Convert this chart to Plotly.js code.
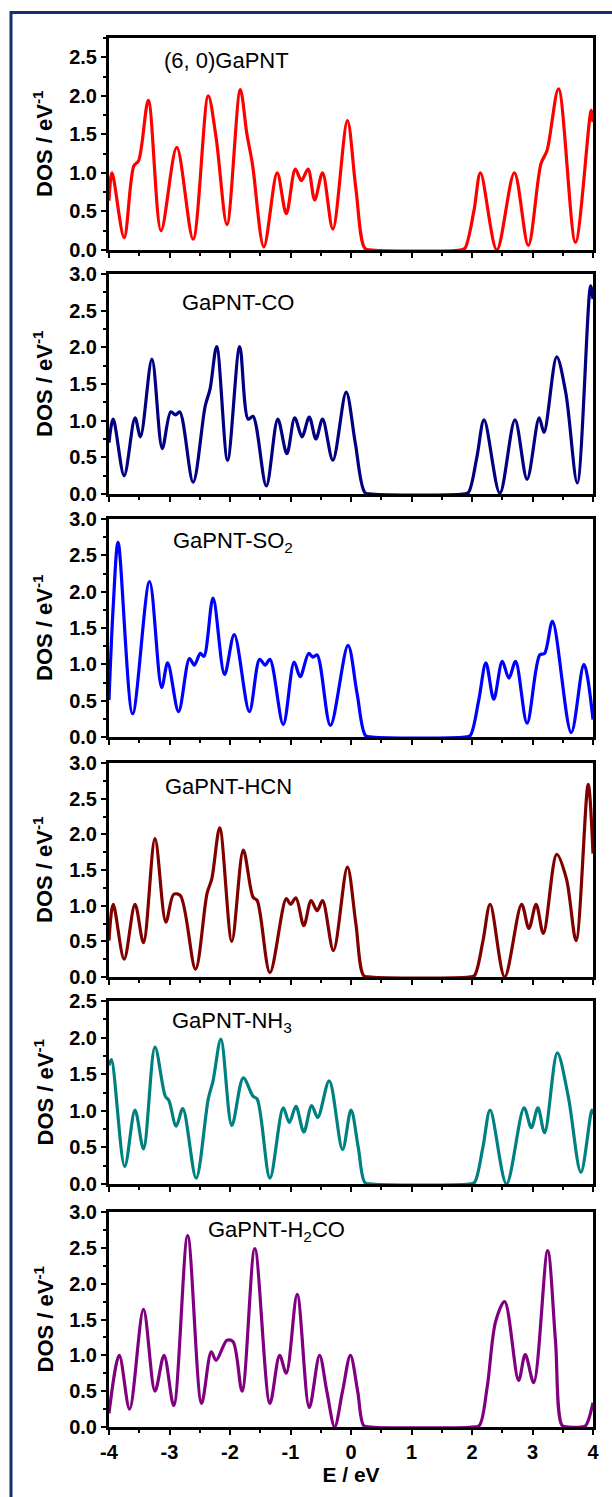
<!DOCTYPE html>
<html>
<head>
<meta charset="utf-8">
<script src="https://cdn.plot.ly/plotly-3.0.1.min.js"></script>
<style>html,body{margin:0;padding:0;background:#fff;}#chart{width:612px;height:1497px;}</style>
</head>
<body>
<div id="chart"></div>
<script>
// ---- data ----
const panelNames = ["(6, 0)GaPNT", "GaPNT-CO", "GaPNT-SO<sub>2</sub>", "GaPNT-HCN", "GaPNT-NH<sub>3</sub>", "GaPNT-H<sub>2</sub>CO"];
const panelColors = ["#ff0000", "#000080", "#0000ff", "#800000", "#008080", "#800080"];
const yMax = [2.75, 3.0, 3.0, 3.0, 2.5, 3.0];
const xTickVals = [-4, -3, -2, -1, 0, 1, 2, 3, 4];

const E_pnt = [-4.0, -3.95, -3.75, -3.59, -3.51, -3.35, -3.14, -2.88, -2.61, -2.36, -2.23, -2.05, -1.83, -1.72, -1.63, -1.44, -1.22, -1.07, -0.92, -0.82, -0.71, -0.60, -0.47, -0.30, -0.06, 0.08, 0.23, 0.35, 1.80, 1.88, 2.03, 2.14, 2.41, 2.70, 2.93, 3.14, 3.24, 3.43, 3.71, 3.97, 4.0];
const D_pnt = [0.64, 1.0, 0.16, 1.09, 1.16, 1.94, 0.25, 1.33, 0.14, 2.0, 1.46, 0.33, 2.08, 1.5, 1.12, 0.04, 1.0, 0.47, 1.05, 0.9, 1.05, 0.65, 1.0, 0.27, 1.68, 0.8, 0.02, 0, 0, 0.02, 0.5, 1.0, 0.0, 1.0, 0.06, 1.12, 1.29, 2.09, 0.1, 1.81, 1.66];

const E_co = [-4.0, -3.93, -3.75, -3.57, -3.48, -3.29, -3.12, -2.98, -2.90, -2.83, -2.61, -2.41, -2.33, -2.22, -2.04, -1.84, -1.70, -1.62, -1.40, -1.21, -1.06, -0.93, -0.81, -0.69, -0.58, -0.47, -0.30, -0.08, 0.07, 0.23, 0.35, 1.85, 1.94, 2.08, 2.20, 2.46, 2.71, 2.91, 3.11, 3.19, 3.40, 3.55, 3.74, 3.96, 4.0];
const D_co = [0.70, 1.02, 0.25, 1.04, 0.78, 1.84, 0.62, 1.12, 1.08, 1.12, 0.16, 1.2, 1.43, 2.01, 0.46, 2.01, 1.02, 1.06, 0.11, 1.02, 0.55, 1.04, 0.78, 1.05, 0.75, 1.02, 0.46, 1.39, 0.7, 0.02, 0, 0, 0.02, 0.5, 1.01, 0.01, 1.01, 0.2, 1.04, 0.84, 1.87, 1.38, 0.15, 2.84, 2.66];

const E_so2 = [-4.0, -3.93, -3.85, -3.61, -3.33, -3.13, -3.03, -2.85, -2.67, -2.59, -2.49, -2.43, -2.28, -2.09, -1.93, -1.68, -1.51, -1.42, -1.34, -1.12, -0.94, -0.84, -0.70, -0.63, -0.56, -0.34, -0.05, 0.10, 0.24, 0.35, 1.88, 1.97, 2.11, 2.23, 2.36, 2.50, 2.61, 2.72, 2.91, 3.12, 3.20, 3.33, 3.64, 3.85, 4.0];
const D_so2 = [0.51, 1.8, 2.68, 0.32, 2.14, 0.68, 1.02, 0.35, 1.08, 0.99, 1.15, 1.11, 1.91, 0.86, 1.41, 0.35, 1.07, 0.99, 1.07, 0.17, 1.03, 0.83, 1.15, 1.10, 1.13, 0.16, 1.26, 0.6, 0.02, 0, 0, 0.02, 0.5, 1.02, 0.52, 1.04, 0.81, 1.04, 0.19, 1.13, 1.15, 1.59, 0.06, 1.0, 0.24];

const E_hcn = [-4.0, -3.93, -3.75, -3.57, -3.43, -3.24, -3.06, -2.93, -2.82, -2.57, -2.38, -2.30, -2.17, -1.97, -1.78, -1.62, -1.55, -1.34, -1.07, -1.0, -0.91, -0.78, -0.66, -0.56, -0.47, -0.29, -0.06, 0.08, 0.21, 0.33, 1.95, 2.04, 2.18, 2.30, 2.54, 2.82, 2.94, 3.06, 3.18, 3.40, 3.56, 3.72, 3.92, 4.0];
const D_hcn = [0.51, 1.02, 0.25, 1.02, 0.48, 1.94, 0.77, 1.16, 1.14, 0.11, 1.17, 1.38, 2.09, 0.50, 1.78, 1.12, 1.07, 0.06, 1.1, 1.02, 1.11, 0.72, 1.07, 0.93, 1.07, 0.37, 1.54, 0.75, 0.02, 0, 0, 0.02, 0.5, 1.02, 0.0, 1.02, 0.68, 1.02, 0.61, 1.72, 1.38, 0.51, 2.70, 1.73];

const E_nh3 = [-4.0, -3.96, -3.74, -3.57, -3.43, -3.24, -3.07, -3.01, -2.89, -2.78, -2.56, -2.36, -2.28, -2.15, -1.97, -1.78, -1.62, -1.55, -1.34, -1.12, -1.02, -0.91, -0.78, -0.65, -0.55, -0.36, -0.14, 0.0, 0.12, 0.23, 0.35, 1.95, 2.04, 2.18, 2.30, 2.57, 2.86, 2.98, 3.09, 3.20, 3.41, 3.59, 3.80, 3.98, 4.0];
const D_nh3 = [1.62, 1.70, 0.24, 1.01, 0.48, 1.87, 1.2, 1.14, 0.79, 1.03, 0.08, 1.16, 1.41, 1.98, 0.8, 1.45, 1.2, 1.16, 0.08, 1.04, 0.84, 1.06, 0.71, 1.07, 0.91, 1.41, 0.47, 1.01, 0.5, 0.02, 0, 0, 0.02, 0.5, 1.01, 0.0, 1.04, 0.77, 1.04, 0.7, 1.79, 1.2, 0.16, 1.01, 0.95];

const E_h2co = [-4.0, -3.83, -3.66, -3.43, -3.24, -3.09, -2.93, -2.70, -2.47, -2.31, -2.23, -2.05, -1.95, -1.80, -1.59, -1.34, -1.18, -1.07, -0.89, -0.69, -0.52, -0.40, -0.27, -0.14, -0.01, 0.11, 0.21, 0.33, 2.0, 2.12, 2.25, 2.39, 2.54, 2.77, 2.88, 3.02, 3.25, 3.38, 3.49, 3.60, 3.80, 3.88, 4.0];
const D_h2co = [0.19, 1.0, 0.25, 1.64, 0.5, 1.0, 0.3, 2.67, 0.33, 1.05, 0.93, 1.21, 1.19, 0.5, 2.49, 0.33, 1.0, 0.75, 1.85, 0.27, 1.0, 0.5, 0.0, 0.5, 1.0, 0.5, 0.02, 0, 0, 0.02, 0.55, 1.47, 1.75, 0.65, 1.01, 0.62, 2.46, 1.2, 0.02, 0, 0, 0.02, 0.34];

const energies = [E_pnt, E_co, E_so2, E_hcn, E_nh3, E_h2co];
const dos = [D_pnt, D_co, D_so2, D_hcn, D_nh3, D_h2co];

// ---- layout geometry (pixels) ----
const W = 612, H = 1497;
const plotLeft = 109, plotRight = 593;
const panelTop = [38, 274, 519, 763, 1001, 1212];
const panelBot = [250, 494, 737, 977, 1184, 1427];
const labelLeft = [162, 180, 171, 163, 170, 206];
const labelMid = [61, 302, 542, 786, 1022, 1231];

const FONT = "Liberation Sans, Arial, sans-serif";
const traces = [];
const layout = {
  width: W, height: H,
  margin: {l: 0, r: 0, t: 0, b: 0},
  paper_bgcolor: "#ffffff", plot_bgcolor: "#ffffff",
  showlegend: false,
  annotations: [], shapes: []
};

for (let i = 0; i < 6; i++) {
  const n = i === 0 ? "" : String(i + 1);
  traces.push({
    x: energies[i], y: dos[i], xaxis: "x" + n, yaxis: "y" + n,
    type: "scatter", mode: "lines",
    line: {color: panelColors[i], width: 3.2, shape: "spline", smoothing: 0.9},
    hoverinfo: "skip"
  });
  const isBottom = i === 5;
  layout["xaxis" + n] = {
    domain: [plotLeft / W, plotRight / W],
    anchor: "y" + n,
    range: [-4, 4],
    tickvals: xTickVals,
    ticktext: xTickVals.map(v => String(v)),
    showticklabels: isBottom,
    ticks: "outside", ticklen: 5, tickwidth: 2, tickcolor: "#000",
    minor: {dtick: 0.5, tick0: -4, ticks: "outside", ticklen: 3, tickwidth: 2, tickcolor: "#000", showgrid: false},
    showline: true, linewidth: 3, linecolor: "#000", mirror: true,
    showgrid: false, zeroline: false,
    tickfont: {family: FONT, size: 20, color: "#000", weight: "bold"},
    fixedrange: true
  };
  if (isBottom) {
    layout["xaxis" + n].title = {text: "E / eV", font: {family: FONT, size: 21, color: "#000", weight: "bold"}, standoff: 6};
  }
  layout["yaxis" + n] = {
    domain: [1 - panelBot[i] / H, 1 - panelTop[i] / H],
    anchor: "x" + n,
    range: [0, yMax[i]],
    dtick: 0.5, tick0: 0, tickformat: ".1f",
    ticks: "outside", ticklen: 5, tickwidth: 2, tickcolor: "#000",
    minor: {dtick: 0.25, tick0: 0, ticks: "outside", ticklen: 3, tickwidth: 2, tickcolor: "#000", showgrid: false},
    showline: true, linewidth: 3, linecolor: "#000", mirror: true,
    showgrid: false, zeroline: false,
    tickfont: {family: FONT, size: 20, color: "#000", weight: "bold"},
    fixedrange: true
  };
  layout.annotations.push({
    text: "DOS / eV<sup>-1</sup>", textangle: -90,
    xref: "paper", yref: "paper",
    x: 43 / W, y: 1 - (panelTop[i] + panelBot[i]) / 2 / H,
    xanchor: "center", yanchor: "middle", showarrow: false,
    font: {family: FONT, size: 22, color: "#000", weight: "bold"}
  });
  layout.annotations.push({
    text: panelNames[i],
    xref: "paper", yref: "paper",
    x: labelLeft[i] / W, y: 1 - labelMid[i] / H,
    xanchor: "left", yanchor: "middle", showarrow: false,
    font: {family: FONT, size: 22, color: "#000"}
  });
}

// outer figure border (left and top edges, as in the cropped reference)
layout.shapes.push({
  type: "path", xref: "paper", yref: "paper",
  path: "M " + (11 / W) + "," + 0 + " L " + (11 / W) + "," + (1 - 12.5 / H) + " L 1," + (1 - 12.5 / H),
  line: {color: "#14306e", width: 3}
});

Plotly.newPlot("chart", traces, layout, {staticPlot: true, displayModeBar: false});
</script>
</body>
</html>
